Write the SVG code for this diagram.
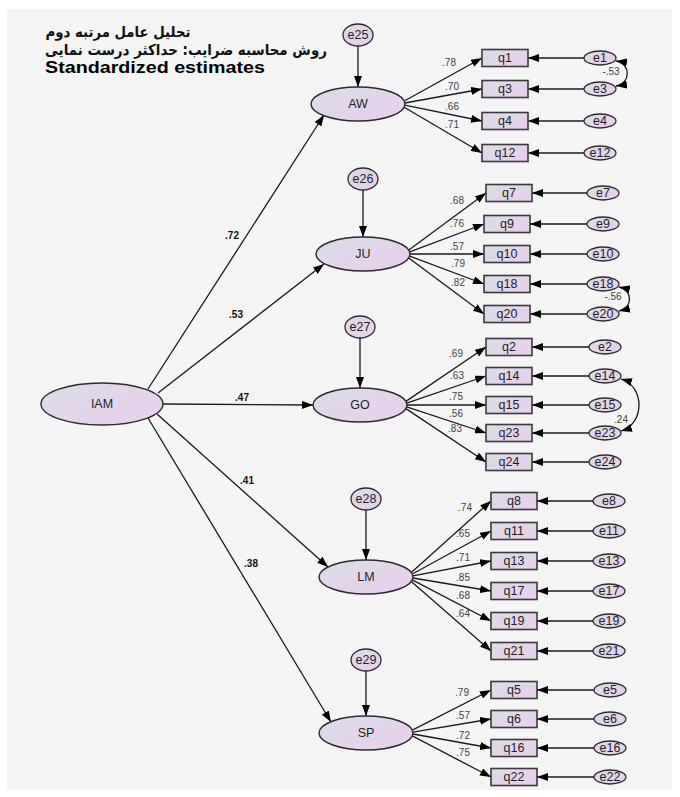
<svg xmlns="http://www.w3.org/2000/svg" width="680" height="797" viewBox="0 0 680 797">
<defs>
<linearGradient id="gf" x1="0" y1="0" x2="1" y2="1">
<stop offset="0" stop-color="#dadde6"/>
<stop offset="1" stop-color="#ebcdee"/>
</linearGradient>
<marker id="ah" markerUnits="userSpaceOnUse" markerWidth="12" markerHeight="8" refX="11" refY="4" orient="auto-start-reverse">
<path d="M0,0 L11,4 L0,8 z" fill="#000"/>
</marker>
</defs>
<style>
.lat{fill:url(#gf);stroke:#2b2b2b;stroke-width:1.4}
.obs{fill:url(#gf);stroke:#3a3a3a;stroke-width:1.6}
.err{fill:url(#gf);stroke:#2b2b2b;stroke-width:1.3}
.lbl{font-family:"Liberation Sans",Arial,sans-serif;font-size:12.5px;fill:#1e1e1e;text-anchor:middle}
.ld{font-family:"Liberation Sans",Arial,sans-serif;font-size:10px;fill:#444;text-anchor:middle;direction:ltr;unicode-bidi:embed}
.pl{font-family:"Liberation Sans",Arial,sans-serif;font-size:10px;font-weight:bold;fill:#111;text-anchor:middle}
.cn line,.cn path{stroke:#1a1a1a;stroke-width:1.3;fill:none;marker-end:url(#ah)}
.cn path.cov{marker-start:url(#ah)}
.ttl{font-family:"DejaVu Sans",sans-serif;font-weight:bold;font-size:15px;fill:#111}
</style>
<rect x="0" y="0" width="680" height="797" fill="#ffffff"/>
<rect x="7" y="9" width="665" height="781" fill="#f4f4f4"/>
<g id="title">
<text class="ttl" x="118" y="37" text-anchor="middle" direction="rtl" textLength="145" lengthAdjust="spacingAndGlyphs">تحلیل عامل مرتبه دوم</text>
<text class="ttl" x="186" y="55" text-anchor="middle" direction="rtl" textLength="282" lengthAdjust="spacingAndGlyphs">روش محاسبه ضرایب: حداکثر درست نمایی</text>
<text x="45" y="73" font-family="Liberation Sans,Arial,sans-serif" font-weight="bold" font-size="16" fill="#000" textLength="220" lengthAdjust="spacingAndGlyphs">Standardized estimates</text>
</g>
<g class="cn" id="connectors">
<line x1="148" y1="389" x2="324" y2="115"/>
<line x1="158" y1="393" x2="324" y2="264"/>
<line x1="163" y1="404" x2="313" y2="405"/>
<line x1="157" y1="414" x2="328" y2="567"/>
<line x1="148" y1="418" x2="331" y2="722"/>
<line x1="358" y1="46" x2="358" y2="87"/>
<line x1="363" y1="190" x2="363" y2="237"/>
<line x1="360" y1="338" x2="360" y2="388"/>
<line x1="366" y1="510" x2="366" y2="560"/>
<line x1="366" y1="671" x2="366" y2="716"/>
<line x1="404.3" y1="101" x2="482" y2="58"/>
<line x1="404.9" y1="103" x2="482" y2="89"/>
<line x1="404.9" y1="105.2" x2="482" y2="121"/>
<line x1="404.2" y1="107.2" x2="482" y2="153"/>
<line x1="408.8" y1="250.1" x2="486" y2="193"/>
<line x1="409.7" y1="251.9" x2="484" y2="224"/>
<line x1="410" y1="254" x2="484" y2="254"/>
<line x1="409.7" y1="256.1" x2="484" y2="284"/>
<line x1="408.8" y1="257.9" x2="484" y2="314"/>
<line x1="405.9" y1="401.4" x2="486" y2="347"/>
<line x1="406.7" y1="403.1" x2="486" y2="376"/>
<line x1="407" y1="405" x2="486" y2="405"/>
<line x1="406.7" y1="406.9" x2="486" y2="433"/>
<line x1="405.9" y1="408.6" x2="486" y2="462"/>
<line x1="411.3" y1="572.4" x2="491" y2="501"/>
<line x1="412.3" y1="574" x2="491" y2="531"/>
<line x1="412.9" y1="575.9" x2="491" y2="561"/>
<line x1="412.9" y1="578" x2="491" y2="591"/>
<line x1="412.3" y1="579.9" x2="491" y2="621"/>
<line x1="411.3" y1="581.5" x2="491" y2="651"/>
<line x1="412.3" y1="730.2" x2="491" y2="690"/>
<line x1="412.9" y1="732.1" x2="491" y2="719"/>
<line x1="412.9" y1="734" x2="491" y2="748"/>
<line x1="412.3" y1="735.9" x2="491" y2="777"/>
<line x1="584" y1="58" x2="528" y2="58"/>
<line x1="584" y1="89" x2="528" y2="89"/>
<line x1="584" y1="121" x2="528" y2="121"/>
<line x1="584" y1="153" x2="528" y2="153"/>
<line x1="587" y1="193" x2="532" y2="193"/>
<line x1="587" y1="224" x2="530" y2="224"/>
<line x1="587" y1="254" x2="530" y2="254"/>
<line x1="587" y1="284" x2="530" y2="284"/>
<line x1="587" y1="314" x2="530" y2="314"/>
<line x1="589" y1="347" x2="532" y2="347"/>
<line x1="589" y1="376" x2="532" y2="376"/>
<line x1="589" y1="405" x2="532" y2="405"/>
<line x1="589" y1="433" x2="532" y2="433"/>
<line x1="589" y1="462" x2="532" y2="462"/>
<line x1="593" y1="501" x2="537" y2="501"/>
<line x1="593" y1="531" x2="537" y2="531"/>
<line x1="593" y1="561" x2="537" y2="561"/>
<line x1="593" y1="591" x2="537" y2="591"/>
<line x1="593" y1="621" x2="537" y2="621"/>
<line x1="593" y1="651" x2="537" y2="651"/>
<line x1="594" y1="690" x2="537" y2="690"/>
<line x1="594" y1="719" x2="537" y2="719"/>
<line x1="594" y1="748" x2="537" y2="748"/>
<line x1="594" y1="777" x2="537" y2="777"/>
<path class="cov" d="M616,61 C631,63 631,84 616,86"/>
<path class="cov" d="M619,287 C633,290 633,308 619,311"/>
<path class="cov" d="M621,379 C645,386 645,424 621,431"/>
<g>
<text class="pl" x="232" y="239">.72</text>
<text class="pl" x="236" y="318">.53</text>
<text class="pl" x="242" y="401">.47</text>
<text class="pl" x="247" y="484">.41</text>
<text class="pl" x="251" y="567">.38</text>
<text class="ld" x="449" y="66">.78</text>
<text class="ld" x="452" y="90">.70</text>
<text class="ld" x="452" y="110">.66</text>
<text class="ld" x="452" y="128">.71</text>
<text class="ld" x="457" y="204">.68</text>
<text class="ld" x="457" y="227">.76</text>
<text class="ld" x="457" y="250">.57</text>
<text class="ld" x="458" y="267">.79</text>
<text class="ld" x="458" y="286">.82</text>
<text class="ld" x="456" y="357">.69</text>
<text class="ld" x="457" y="379">.63</text>
<text class="ld" x="456" y="400">.75</text>
<text class="ld" x="456" y="417">.56</text>
<text class="ld" x="455" y="432">.83</text>
<text class="ld" x="465" y="511">.74</text>
<text class="ld" x="463" y="537">.65</text>
<text class="ld" x="463" y="561">.71</text>
<text class="ld" x="463" y="581">.85</text>
<text class="ld" x="463" y="599">.68</text>
<text class="ld" x="463" y="617">.64</text>
<text class="ld" x="462" y="696">.79</text>
<text class="ld" x="463" y="719">.57</text>
<text class="ld" x="463" y="739">.72</text>
<text class="ld" x="463" y="756">.75</text>
<text class="ld" x="611" y="75">-.53</text>
<text class="ld" x="613" y="300">-.56</text>
<text class="ld" x="621" y="423">.24</text>
</g>
</g>
<g id="IAM"><ellipse class="lat" cx="102" cy="404" rx="61" ry="21"/><text class="lbl" x="102" y="408">IAM</text></g>
<g id="AW"><ellipse class="lat" cx="358" cy="104" rx="47" ry="17"/><text class="lbl" x="358" y="108">AW</text></g>
<g id="JU"><ellipse class="lat" cx="363" cy="254" rx="47" ry="17"/><text class="lbl" x="363" y="258">JU</text></g>
<g id="GO"><ellipse class="lat" cx="360" cy="405" rx="47" ry="17"/><text class="lbl" x="360" y="409">GO</text></g>
<g id="LM"><ellipse class="lat" cx="366" cy="577" rx="47" ry="17"/><text class="lbl" x="366" y="581">LM</text></g>
<g id="SP"><ellipse class="lat" cx="366" cy="733" rx="47" ry="17"/><text class="lbl" x="366" y="737">SP</text></g>
<g id="e25"><ellipse class="err" cx="358" cy="35" rx="15" ry="11"/><text class="lbl" x="358" y="39">e25</text></g>
<g id="e26"><ellipse class="err" cx="363" cy="179" rx="15" ry="11"/><text class="lbl" x="363" y="183">e26</text></g>
<g id="e27"><ellipse class="err" cx="360" cy="327" rx="15" ry="11"/><text class="lbl" x="360" y="331">e27</text></g>
<g id="e28"><ellipse class="err" cx="366" cy="499" rx="15" ry="11"/><text class="lbl" x="366" y="503">e28</text></g>
<g id="e29"><ellipse class="err" cx="366" cy="660" rx="15" ry="11"/><text class="lbl" x="366" y="664">e29</text></g>
<g id="q1"><rect class="obs" x="482" y="49.5" width="46" height="17"/><text class="lbl" x="505" y="62">q1</text></g>
<g id="q3"><rect class="obs" x="482" y="80.5" width="46" height="17"/><text class="lbl" x="505" y="93">q3</text></g>
<g id="q4"><rect class="obs" x="482" y="112.5" width="46" height="17"/><text class="lbl" x="505" y="125">q4</text></g>
<g id="q12"><rect class="obs" x="482" y="144.5" width="46" height="17"/><text class="lbl" x="505" y="157">q12</text></g>
<g id="q7"><rect class="obs" x="486" y="184.5" width="46" height="17"/><text class="lbl" x="509" y="197">q7</text></g>
<g id="q9"><rect class="obs" x="484" y="215.5" width="46" height="17"/><text class="lbl" x="507" y="228">q9</text></g>
<g id="q10"><rect class="obs" x="484" y="245.5" width="46" height="17"/><text class="lbl" x="507" y="258">q10</text></g>
<g id="q18"><rect class="obs" x="484" y="275.5" width="46" height="17"/><text class="lbl" x="507" y="288">q18</text></g>
<g id="q20"><rect class="obs" x="484" y="305.5" width="46" height="17"/><text class="lbl" x="507" y="318">q20</text></g>
<g id="q2"><rect class="obs" x="486" y="338.5" width="46" height="17"/><text class="lbl" x="509" y="351">q2</text></g>
<g id="q14"><rect class="obs" x="486" y="367.5" width="46" height="17"/><text class="lbl" x="509" y="380">q14</text></g>
<g id="q15"><rect class="obs" x="486" y="396.5" width="46" height="17"/><text class="lbl" x="509" y="409">q15</text></g>
<g id="q23"><rect class="obs" x="486" y="424.5" width="46" height="17"/><text class="lbl" x="509" y="437">q23</text></g>
<g id="q24"><rect class="obs" x="486" y="453.5" width="46" height="17"/><text class="lbl" x="509" y="466">q24</text></g>
<g id="q8"><rect class="obs" x="491" y="492.5" width="46" height="17"/><text class="lbl" x="514" y="505">q8</text></g>
<g id="q11"><rect class="obs" x="491" y="522.5" width="46" height="17"/><text class="lbl" x="514" y="535">q11</text></g>
<g id="q13"><rect class="obs" x="491" y="552.5" width="46" height="17"/><text class="lbl" x="514" y="565">q13</text></g>
<g id="q17"><rect class="obs" x="491" y="582.5" width="46" height="17"/><text class="lbl" x="514" y="595">q17</text></g>
<g id="q19"><rect class="obs" x="491" y="612.5" width="46" height="17"/><text class="lbl" x="514" y="625">q19</text></g>
<g id="q21"><rect class="obs" x="491" y="642.5" width="46" height="17"/><text class="lbl" x="514" y="655">q21</text></g>
<g id="q5"><rect class="obs" x="491" y="681.5" width="46" height="17"/><text class="lbl" x="514" y="694">q5</text></g>
<g id="q6"><rect class="obs" x="491" y="710.5" width="46" height="17"/><text class="lbl" x="514" y="723">q6</text></g>
<g id="q16"><rect class="obs" x="491" y="739.5" width="46" height="17"/><text class="lbl" x="514" y="752">q16</text></g>
<g id="q22"><rect class="obs" x="491" y="768.5" width="46" height="17"/><text class="lbl" x="514" y="781">q22</text></g>
<g id="e1"><ellipse class="err" cx="600" cy="58" rx="16" ry="7"/><text class="lbl" x="600" y="62">e1</text></g>
<g id="e3"><ellipse class="err" cx="600" cy="89" rx="16" ry="7"/><text class="lbl" x="600" y="93">e3</text></g>
<g id="e4"><ellipse class="err" cx="600" cy="121" rx="16" ry="7"/><text class="lbl" x="600" y="125">e4</text></g>
<g id="e12"><ellipse class="err" cx="600" cy="153" rx="16" ry="7"/><text class="lbl" x="600" y="157">e12</text></g>
<g id="e7"><ellipse class="err" cx="603" cy="193" rx="16" ry="7"/><text class="lbl" x="603" y="197">e7</text></g>
<g id="e9"><ellipse class="err" cx="603" cy="224" rx="16" ry="7"/><text class="lbl" x="603" y="228">e9</text></g>
<g id="e10"><ellipse class="err" cx="603" cy="254" rx="16" ry="7"/><text class="lbl" x="603" y="258">e10</text></g>
<g id="e18"><ellipse class="err" cx="603" cy="284" rx="16" ry="7"/><text class="lbl" x="603" y="288">e18</text></g>
<g id="e20"><ellipse class="err" cx="603" cy="314" rx="16" ry="7"/><text class="lbl" x="603" y="318">e20</text></g>
<g id="e2"><ellipse class="err" cx="605" cy="347" rx="16" ry="7"/><text class="lbl" x="605" y="351">e2</text></g>
<g id="e14"><ellipse class="err" cx="605" cy="376" rx="16" ry="7"/><text class="lbl" x="605" y="380">e14</text></g>
<g id="e15"><ellipse class="err" cx="605" cy="405" rx="16" ry="7"/><text class="lbl" x="605" y="409">e15</text></g>
<g id="e23"><ellipse class="err" cx="605" cy="433" rx="16" ry="7"/><text class="lbl" x="605" y="437">e23</text></g>
<g id="e24"><ellipse class="err" cx="605" cy="462" rx="16" ry="7"/><text class="lbl" x="605" y="466">e24</text></g>
<g id="e8"><ellipse class="err" cx="609" cy="501" rx="16" ry="7"/><text class="lbl" x="609" y="505">e8</text></g>
<g id="e11"><ellipse class="err" cx="609" cy="531" rx="16" ry="7"/><text class="lbl" x="609" y="535">e11</text></g>
<g id="e13"><ellipse class="err" cx="609" cy="561" rx="16" ry="7"/><text class="lbl" x="609" y="565">e13</text></g>
<g id="e17"><ellipse class="err" cx="609" cy="591" rx="16" ry="7"/><text class="lbl" x="609" y="595">e17</text></g>
<g id="e19"><ellipse class="err" cx="609" cy="621" rx="16" ry="7"/><text class="lbl" x="609" y="625">e19</text></g>
<g id="e21"><ellipse class="err" cx="609" cy="651" rx="16" ry="7"/><text class="lbl" x="609" y="655">e21</text></g>
<g id="e5"><ellipse class="err" cx="610" cy="690" rx="16" ry="7"/><text class="lbl" x="610" y="694">e5</text></g>
<g id="e6"><ellipse class="err" cx="610" cy="719" rx="16" ry="7"/><text class="lbl" x="610" y="723">e6</text></g>
<g id="e16"><ellipse class="err" cx="610" cy="748" rx="16" ry="7"/><text class="lbl" x="610" y="752">e16</text></g>
<g id="e22"><ellipse class="err" cx="610" cy="777" rx="16" ry="7"/><text class="lbl" x="610" y="781">e22</text></g>
</svg>
